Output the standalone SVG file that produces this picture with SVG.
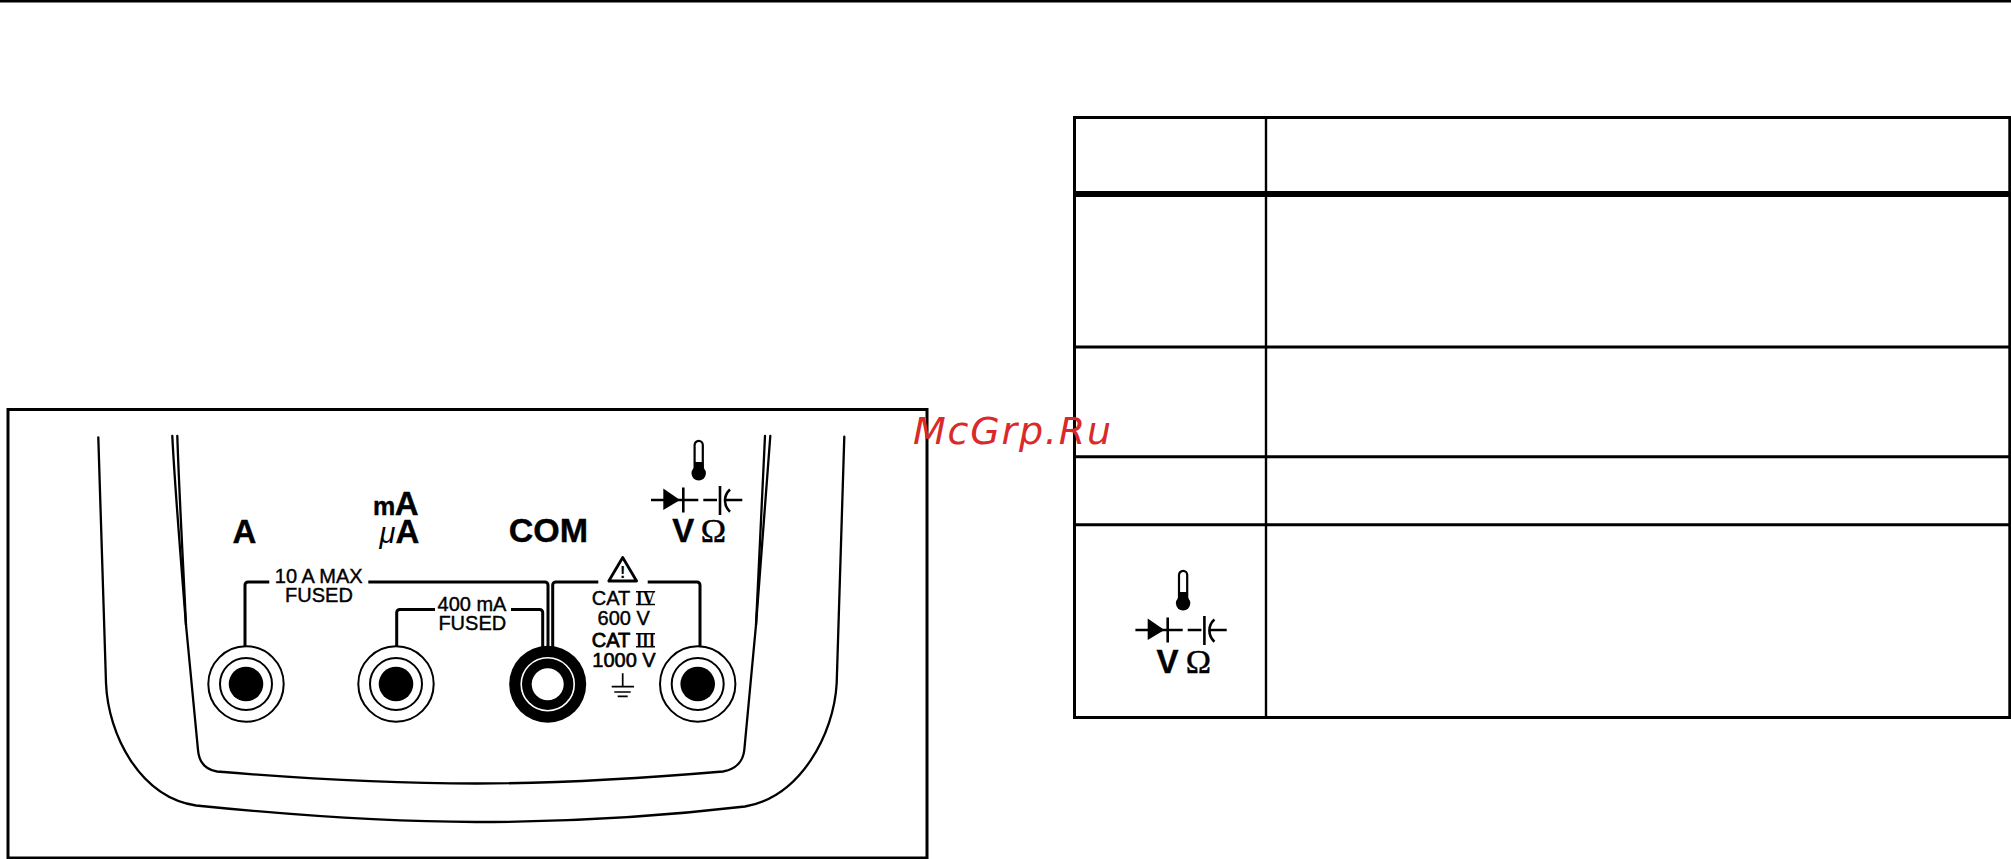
<svg xmlns="http://www.w3.org/2000/svg" width="2011" height="859" viewBox="0 0 2011 859">
<style>
.b{fill:none;stroke:#000;stroke-width:2.3;stroke-linecap:round}
.l{fill:none;stroke:#000;stroke-width:3}
.t{fill:none;stroke:#000;stroke-width:3}
.s{font-family:"Liberation Sans",Arial,sans-serif;fill:#000;font-size:20px;text-anchor:middle;stroke:#000;stroke-width:.4}
.h{font-family:"Liberation Sans",Arial,sans-serif;fill:#000;font-weight:700;font-size:33px;text-anchor:middle;stroke:#000;stroke-width:.4}
.r{font-family:"Liberation Serif",serif;fill:#000;font-weight:700;font-size:20px;text-anchor:middle}
.o{font-family:"Liberation Serif",serif;fill:#000;font-size:34px;text-anchor:middle;stroke:#000;stroke-width:.5}
.ring{fill:#fff;stroke:#000;stroke-width:2}
</style>
<defs>
<g id="icon">
<path d="M694.6 470V445a4.1 4.1 0 0 1 8.2 0V470" fill="#fff" stroke="#000" stroke-width="2.2"/>
<rect x="694" y="462" width="9.4" height="10"/>
<circle cx="698.7" cy="473.3" r="7.2"/>
<path d="M651 500H698.3M683.3 487.5V512.5M703.3 500H717M720 486V515M730 489.5Q725 494 725 500.5T730 511.7M725.5 500H742.3" fill="none" stroke="#000" stroke-width="2.6"/>
<path d="M663.3 488.5L680 500L663.3 510Z"/>
</g>
<g id="jack">
<circle r="37.7" class="ring"/>
<circle r="26" class="ring"/>
<circle r="17.3"/>
</g>
</defs>
<rect width="2011" height="859" fill="#fff"/>
<path d="M0 1H2011" stroke="#000" stroke-width="3"/>

<g id="frame"><rect x="8" y="409.5" width="919" height="448.5" class="l"/></g>

<g id="body">
<path class="b" d="M98.3 437.3L106 683C108 735 140 797 196 805.5C300 816 400 822 476 822C560 822 660 816.5 745 806.5C800 797 834 735 836.7 683L844.3 436.7"/>
<path class="b" d="M172.3 436C175 490 181 560 186 625L198 750C199 762 205 769.5 217 771.5C300 778.5 400 783.5 477 783.5C560 783.5 640 778.5 723 771.5C735 769.5 743 762 744.3 750L756 625C761 560 766 490 770.3 436"/>
<path class="b" d="M177.3 436C179 490 183 560 186 625M756 625C759 560 763 490 765 436"/>
</g>

<g id="connectors">
<path class="l" d="M245 647V585a3 3 0 0 1 3-3H269.3"/>
<path class="l" d="M368.3 582H545a3 3 0 0 1 3 3V647"/>
<path class="l" d="M396.7 647V612.5a3 3 0 0 1 3-3H435"/>
<path class="l" d="M511 609.5H539.7a3 3 0 0 1 3 3V647"/>
<path class="l" d="M552.7 647V585a3 3 0 0 1 3-3H598.3"/>
<path class="l" d="M647.7 582H697a3 3 0 0 1 3 3V647"/>
</g>

<g id="jack-a"><use href="#jack" x="246" y="684"/></g>
<g id="jack-ma"><use href="#jack" x="396" y="684"/></g>
<g id="jack-com">
<circle cx="547.7" cy="684.2" r="38.5"/>
<circle cx="547.7" cy="684.2" r="26.5" fill="none" stroke="#fff" stroke-width="1.6"/>
<circle cx="547.7" cy="684.2" r="16" fill="#fff"/>
</g>
<g id="jack-v"><use href="#jack" x="697.7" y="684"/></g>

<g id="label-a"><text class="h" x="244.5" y="542.7">A</text></g>
<g id="label-ma">
<text class="h" x="384" y="515" style="font-size:25px">m</text>
<text class="h" x="406.7" y="515">A</text>
<text x="387.5" y="543.3" style="font-family:'Liberation Sans',sans-serif;font-style:italic;font-size:29px;text-anchor:middle">μ</text>
<text class="h" x="407.5" y="543.3">A</text>
</g>
<g id="label-com"><text class="h" x="548.3" y="542.3" style="font-size:34px">COM</text></g>
<g id="label-v">
<use href="#icon"/>
<text class="h" x="683.3" y="542">V</text>
<text class="o" x="713.5" y="542">Ω</text>
</g>

<g id="fuse-labels">
<text class="s" x="318.7" y="582.7">10 A MAX</text>
<text class="s" x="319" y="601.7">FUSED</text>
<text class="s" x="472" y="610.7">400 mA</text>
<text class="s" x="472.3" y="630">FUSED</text>
</g>

<g id="category-labels">
<path d="M622.7 557.5L608.8 581H636.6Z" fill="#fff" stroke="#000" stroke-width="2.8" stroke-linejoin="round"/>
<text x="622.7" y="577.5" style="font-family:'Liberation Sans',sans-serif;font-weight:700;font-size:16px;text-anchor:middle">!</text>
<text class="s" x="611" y="605">CAT</text>
<text class="r" x="645.5" y="605" textLength="19" lengthAdjust="spacingAndGlyphs">IV</text>
<path d="M636 591.8H655M636 604.5H655" stroke="#000" stroke-width="1.5"/>
<text class="s" x="623.7" y="625">600 V</text>
<text class="s" x="611" y="647.3" style="stroke-width:.8">CAT</text>
<text class="r" x="645.5" y="647.3" textLength="19" lengthAdjust="spacingAndGlyphs">III</text>
<path d="M636 633.8H655M636 646.8H655" stroke="#000" stroke-width="1.5"/>
<text class="s" x="624" y="666.7" style="stroke-width:.6">1000 V</text>
<path d="M622.7 673.3V686.7M611.7 686.7H634M614.3 692H630.7M617.7 696.3H627.7" fill="none" stroke="#000" stroke-width="1.7"/>
</g>

<g id="table">
<path class="t" d="M1074.5 117.5H2010M1074.5 347H2010M1074.5 456.7H2010M1074.5 524.7H2010M1074.5 717.5H2010M1074.5 116V719M2009.8 116V719"/>
<path d="M1074.5 194H2010" stroke="#000" stroke-width="6" fill="none"/>
<path d="M1266 117V717" stroke="#000" stroke-width="2.4" fill="none"/>
</g>
<g id="table-icon">
<use href="#icon" x="484.4" y="130"/>
<text class="h" x="1167.5" y="673.3">V</text>
<text class="o" x="1198.5" y="672.7">Ω</text>
</g>

<g id="watermark"><text x="913" y="444" style="font-family:'DejaVu Sans',sans-serif;font-style:oblique;font-size:38px;letter-spacing:1.8px;fill:#d92a2a">McGrp.Ru</text></g>
</svg>
